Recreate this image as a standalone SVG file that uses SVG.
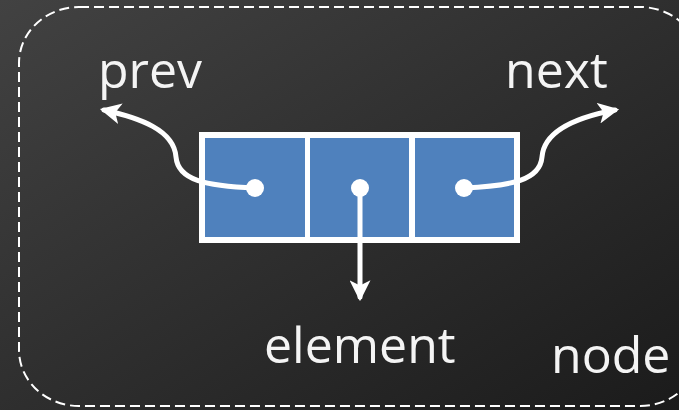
<svg xmlns="http://www.w3.org/2000/svg" width="679" height="410" viewBox="0 0 679 410">
  <defs>
    <linearGradient id="bg" x1="0" y1="0" x2="1" y2="1">
      <stop offset="0" stop-color="#424242"/>
      <stop offset="1" stop-color="#1b1b1b"/>
    </linearGradient>
    <marker id="arrow" viewBox="0 0 10 10" refX="8" refY="5" markerWidth="4.2" markerHeight="4.2" orient="auto" markerUnits="strokeWidth">
      <path d="M0,0 L10,5 L0,10 L2.5,5 z" fill="#ffffff"/>
    </marker>
    <style>
      .label { font-family: "Open Sans", "Liberation Sans", sans-serif; fill: #f4f4f4; font-size: 50px; }
      .cell { fill: #4f81bd; }
      .wire { fill: none; stroke: #ffffff; stroke-width: 5; stroke-linecap: round; marker-end: url(#arrow); }
      .dot { fill: #ffffff; }
    </style>
  </defs>

  <rect x="0" y="0" width="679" height="410" fill="url(#bg)"/>

  <!-- dashed outline of the node -->
  <g id="node">
    <rect x="19" y="7" width="681" height="399" rx="60" ry="56" fill="none" stroke="#ffffff" stroke-width="2" stroke-dasharray="10 5"/>
    <text class="label" x="551" y="373">node</text>
  </g>

  <!-- the three-field record -->
  <g id="record">
    <rect x="199" y="132" width="321" height="111" fill="#ffffff"/>
    <rect class="cell" x="205" y="138" width="100" height="99"/>
    <rect class="cell" x="310" y="138" width="99" height="99"/>
    <rect class="cell" x="415" y="138" width="99" height="99"/>
  </g>

  <g id="prev">
    <text class="label" x="98" y="88">prev</text>
  </g>
  <g id="next">
    <text class="label" x="505" y="88">next</text>
  </g>
  <g id="element">
    <text class="label" x="264" y="363">element</text>
  </g>

  <!-- pointers -->
  <g id="connectors">
    <path class="wire" d="M255,188 C205,186 178,180 176,157 C174,130 140,118 104,110"/>
    <path class="wire" d="M464,188 C512,186 540,180 542,157 C544,130 578,117 615,110"/>
    <path class="wire" d="M360,188 L360,297"/>
    <circle class="dot" cx="255" cy="188" r="9"/>
    <circle class="dot" cx="360" cy="188" r="9"/>
    <circle class="dot" cx="464" cy="188" r="9"/>
  </g>
</svg>
